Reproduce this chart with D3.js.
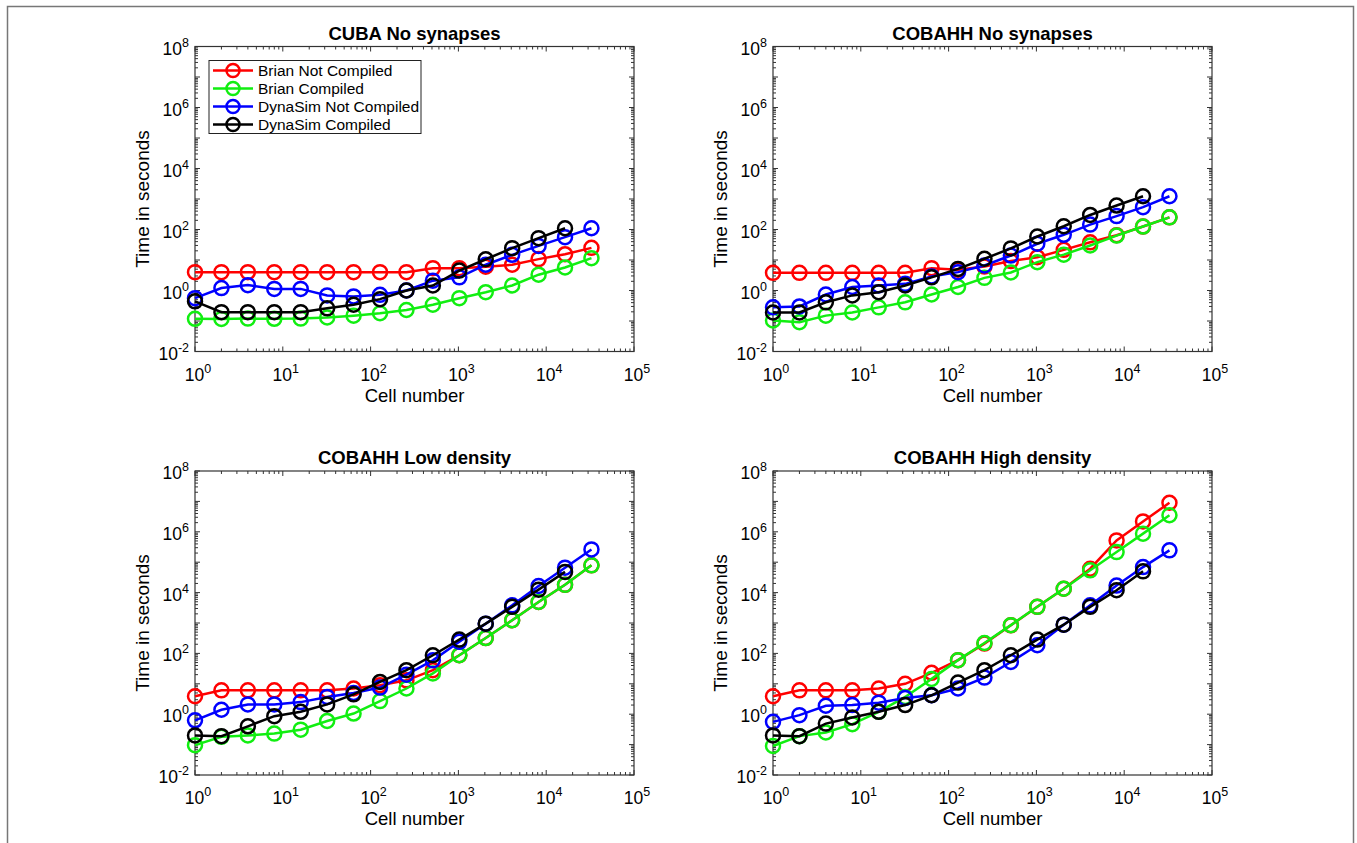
<!DOCTYPE html>
<html>
<head>
<meta charset="utf-8">
<script src="https://cdn.jsdelivr.net/npm/d3@7"></script>
<style>
  body { margin: 0; background: #fff; }
  svg { font-family: "Liberation Sans", Arial, sans-serif; }
</style>
</head>
<body>
<svg id="chart" width="1357" height="843"></svg>
<script>
// cell numbers 2^0 .. 2^15
const cells = [1, 2, 4, 8, 16, 32, 64, 128, 256, 512, 1024, 2048, 4096, 8192, 16384, 32768];

const seriesNames = ['Brian Not Compiled', 'Brian Compiled', 'DynaSim Not Compiled', 'DynaSim Compiled'];
const seriesColors = ['#ff0000', '#11ee11', '#0000ff', '#000000'];

const panelTitles = ['CUBA No synapses', 'COBAHH No synapses', 'COBAHH Low density', 'COBAHH High density'];

const yTickExps = [-2, 0, 2, 4, 6, 8];
const xTickExps = [0, 1, 2, 3, 4, 5];

// times in seconds (DynaSim Compiled stops at 16384)
const cubaBrianNC = [4, 4, 4, 4, 4, 4, 4, 4, 4, 5.4, 5.4, 6, 7, 10.7, 15.5, 25];
const cubaBrianC = [0.118, 0.117, 0.12, 0.118, 0.12, 0.13, 0.15, 0.18, 0.23, 0.34, 0.56, 0.88, 1.46, 3.3, 5.7, 11.5];
const cubaDynaNC = [0.56, 1.2, 1.5, 1.13, 1.13, 0.69, 0.64, 0.72, 1.0, 2.1, 2.7, 7, 14.8, 29, 56, 110];
const cubaDynaC = [0.44, 0.195, 0.195, 0.195, 0.195, 0.26, 0.34, 0.52, 1.0, 1.46, 4.5, 10.6, 24.5, 52, 110];

const cobaBrianNC = [3.8, 3.8, 3.8, 3.8, 3.8, 3.8, 5.4, 4.8, 6.1, 9.2, 12.3, 21.5, 38, 65, 125, 250];
const cobaBrianC = [0.104, 0.091, 0.15, 0.19, 0.28, 0.41, 0.74, 1.3, 2.6, 3.9, 8.5, 15, 30, 63, 125, 250];
const cobaDynaNC = [0.28, 0.3, 0.74, 1.3, 1.46, 1.65, 2.9, 4, 6.6, 14, 34, 67, 145, 275, 540, 1230];
const cobaDynaC = [0.19, 0.19, 0.41, 0.69, 0.88, 1.46, 2.7, 5.1, 11, 24, 59, 128, 300, 610, 1230];

const lowBrianNC = [3.9, 6.1, 6.1, 6.1, 6.1, 6.1, 7, 9, 13, 28, 87, 320, 1230, 4900, 18000, 79000];
const lowBrianC = [0.096, 0.18, 0.2, 0.23, 0.31, 0.6, 1.05, 2.7, 7, 22, 87, 320, 1230, 4900, 18000, 79000];
const lowDynaNC = [0.63, 1.4, 2.1, 2.1, 2.5, 3.7, 5.0, 7.5, 20, 59, 240, 950, 3800, 16500, 66000, 263000];
const lowDynaC = [0.2, 0.19, 0.4, 0.86, 1.2, 2.1, 4.5, 11.5, 28, 87, 285, 950, 3400, 12500, 48000];

const highBrianNC = [3.9, 6.1, 6.1, 6.1, 7, 10, 23, 60, 210, 840, 3400, 13400, 61000, 520000, 2200000, 9000000];
const highBrianC = [0.09, 0.19, 0.25, 0.47, 1.2, 3.7, 14.5, 60, 220, 850, 3400, 13400, 54000, 215000, 870000, 3500000];
const highDynaNC = [0.56, 0.93, 1.9, 2.0, 2.4, 3.4, 4.2, 7, 16, 52, 185, 880, 3800, 17000, 69000, 245000];
const highDynaC = [0.2, 0.19, 0.49, 0.78, 1.2, 2.0, 4.2, 11, 28, 87, 285, 880, 3400, 12000, 50000];

const panelData = [
  [cubaBrianNC, cubaBrianC, cubaDynaNC, cubaDynaC],
  [cobaBrianNC, cobaBrianC, cobaDynaNC, cobaDynaC],
  [lowBrianNC, lowBrianC, lowDynaNC, lowDynaC],
  [highBrianNC, highBrianC, highDynaNC, highDynaC]
];

// axes boxes in page pixels
const boxes = [
  { left: 195, top: 46.5, right: 634, bottom: 351.5 },
  { left: 773, top: 46.5, right: 1212, bottom: 351.5 },
  { left: 195, top: 471, right: 634, bottom: 775 },
  { left: 773, top: 471, right: 1212, bottom: 775 }
];

const svg = d3.select('#chart');

// outer frame of the figure
svg.append('rect')
  .attr('x', 7.5).attr('y', 6.5)
  .attr('width', 1346).attr('height', 860)
  .attr('fill', 'none')
  .attr('stroke', '#777')
  .attr('stroke-width', 1.5);

function powLabel(sel, exp) {
  sel.append('tspan').text('10');
  sel.append('tspan')
    .attr('dy', -8)
    .attr('font-size', 12.5)
    .text(exp);
}

panelData.forEach((series, i) => {
  const b = boxes[i];
  const w = b.right - b.left;
  const h = b.bottom - b.top;
  const g = svg.append('g').attr('transform', `translate(${b.left},${b.top})`);

  const x = d3.scaleLog().domain([1, 1e5]).range([0, w]);
  const y = d3.scaleLog().domain([1e-2, 1e8]).range([h, 0]);

  // ticks, pointing inward on all four sides
  const xMinor = [];
  for (let e = 0; e < 5; e++) for (let k = 2; k <= 9; k++) xMinor.push(k * Math.pow(10, e));
  const yMinor = [];
  for (let e = -2; e < 8; e++) for (let k = 2; k <= 9; k++) yMinor.push(k * Math.pow(10, e));
  const yMajor = d3.range(-2, 9).map(e => Math.pow(10, e));
  const xMajor = xTickExps.map(e => Math.pow(10, e));

  const ticks = g.append('g').attr('stroke', '#333').attr('stroke-width', 1);
  [[xMajor, 5], [xMinor, 3]].forEach(([vals, len]) => {
    vals.forEach(v => {
      const px = x(v);
      ticks.append('line').attr('x1', px).attr('x2', px).attr('y1', h).attr('y2', h - len);
      ticks.append('line').attr('x1', px).attr('x2', px).attr('y1', 0).attr('y2', len);
    });
  });
  [[yMajor, 5], [yMinor, 3]].forEach(([vals, len]) => {
    vals.forEach(v => {
      const py = y(v);
      ticks.append('line').attr('x1', 0).attr('x2', len).attr('y1', py).attr('y2', py);
      ticks.append('line').attr('x1', w).attr('x2', w - len).attr('y1', py).attr('y2', py);
    });
  });

  g.append('rect')
    .attr('width', w).attr('height', h)
    .attr('fill', 'none')
    .attr('stroke', '#333')
    .attr('stroke-width', 1.2);

  // tick labels
  xTickExps.forEach(e => {
    g.append('text')
      .attr('x', x(Math.pow(10, e)) + 3)
      .attr('y', h + 29)
      .attr('text-anchor', 'middle')
      .attr('font-size', 17.5)
      .call(powLabel, e);
  });
  yTickExps.forEach(e => {
    g.append('text')
      .attr('x', -6)
      .attr('y', y(Math.pow(10, e)) + 8)
      .attr('text-anchor', 'end')
      .attr('font-size', 17.5)
      .call(powLabel, e);
  });

  // titles and axis labels
  g.append('text')
    .attr('x', w / 2).attr('y', -7)
    .attr('text-anchor', 'middle')
    .attr('font-size', 18.5)
    .attr('font-weight', 'bold')
    .text(panelTitles[i]);
  g.append('text')
    .attr('x', w / 2).attr('y', h + 50)
    .attr('text-anchor', 'middle')
    .attr('font-size', 18.5)
    .text('Cell number');
  g.append('text')
    .attr('transform', `translate(-46,${h / 2}) rotate(-90)`)
    .attr('text-anchor', 'middle')
    .attr('font-size', 19)
    .text('Time in seconds');

  // series
  const line = d3.line().x(d => x(d[0])).y(d => y(d[1]));
  series.forEach((vals, s) => {
    const pts = vals.map((v, k) => [cells[k], v]);
    g.append('path')
      .datum(pts)
      .attr('d', line)
      .attr('fill', 'none')
      .attr('stroke', seriesColors[s])
      .attr('stroke-width', 2.5);
    g.selectAll(null)
      .data(pts)
      .enter()
      .append('circle')
      .attr('cx', d => x(d[0]))
      .attr('cy', d => y(d[1]))
      .attr('r', 7)
      .attr('fill', 'none')
      .attr('stroke', seriesColors[s])
      .attr('stroke-width', 2.5);
  });

  // legend only on the first panel
  if (i === 0) {
    const lg = g.append('g').attr('transform', 'translate(14,14)');
    lg.append('rect')
      .attr('width', 212).attr('height', 73)
      .attr('fill', '#fff')
      .attr('stroke', '#222')
      .attr('stroke-width', 1);
    seriesNames.forEach((name, s) => {
      const ry = 10 + s * 18;
      lg.append('line')
        .attr('x1', 4).attr('x2', 44).attr('y1', ry).attr('y2', ry)
        .attr('stroke', seriesColors[s]).attr('stroke-width', 2.5);
      lg.append('circle')
        .attr('cx', 24).attr('cy', ry).attr('r', 6.5)
        .attr('fill', 'none')
        .attr('stroke', seriesColors[s]).attr('stroke-width', 2.5);
      lg.append('text')
        .attr('x', 49).attr('y', ry + 5.5)
        .attr('font-size', 15.5)
        .text(name);
    });
  }
});
</script>
</body>
</html>
